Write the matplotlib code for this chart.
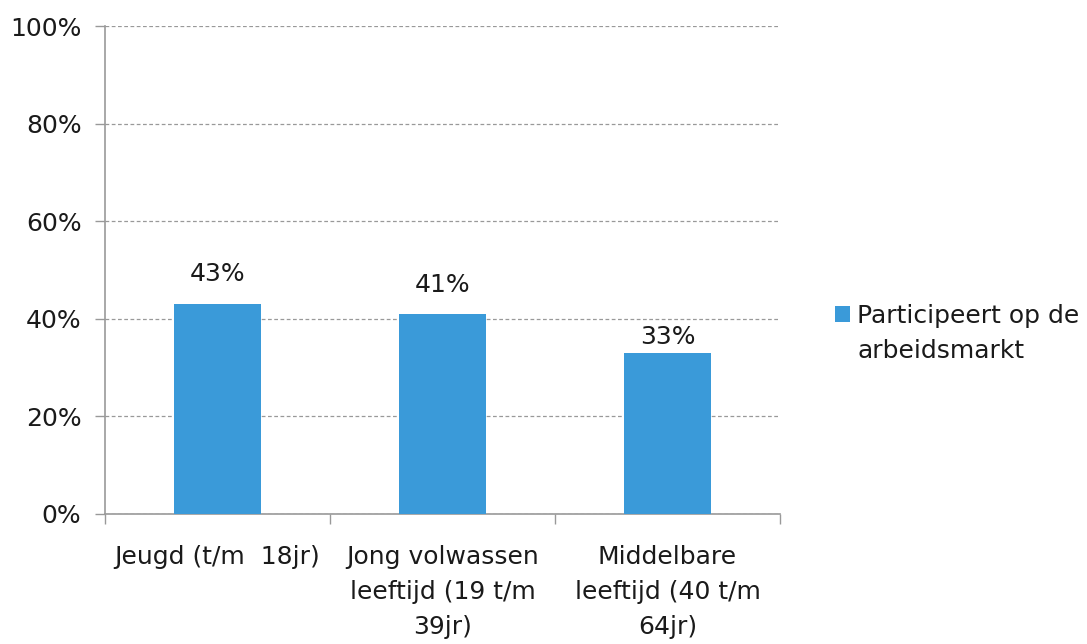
import matplotlib
matplotlib.use("Agg")
import matplotlib.pyplot as plt
import numpy as np

categories = ["Jeugd (t/m  18jr)", "Jong volwassen\nleeftijd (19 t/m\n39jr)", "Middelbare\nleeftijd (40 t/m\n64jr)"]
values = [43, 41, 33]
series_name = "Participeert op de\narbeidsmarkt"
yticks = [0, 20, 40, 60, 80, 100]
label_offsets_pt = [17, 16, 6.5]  # vertical offset of value labels above bars

plt.rcParams['font.family'] = ['DejaVu Sans']
FS = 18
TXT = "#1a1a1a"

fig = plt.figure(figsize=(10.87, 6.44), dpi=100)
ax = fig.add_axes([0.0966, 0.2019, 0.6210, 0.7577])

x = np.arange(len(categories))
color = "#3a9ad9"
bars = ax.bar(x, values, width=0.39, color=color, zorder=3, label=series_name)
for xi, v, off in zip(x, values, label_offsets_pt):
    ax.annotate(f"{v}%", xy=(xi, v), xytext=(0, off), textcoords="offset points",
                ha="center", va="baseline", fontsize=FS, color=TXT, zorder=4)

ax.set_xlim(-0.5, len(categories) - 0.5)
ax.set_ylim(0, 100)
ax.set_yticks(yticks)
ax.set_yticklabels([f"{t}%" for t in yticks], fontsize=FS, color=TXT)
ax.yaxis.grid(True, linestyle=(0, (3, 2)), color="#999999", linewidth=0.9, zorder=0)
ax.set_axisbelow(True)

ax.set_xticks(x)
ax.set_xticklabels(categories, fontsize=FS, color=TXT, linespacing=1.6)
ax.tick_params(axis="x", length=0, pad=22)
ax.set_xticks(np.arange(-0.5, len(categories)), minor=True)
ax.tick_params(axis="x", which="minor", length=7, color="#999999", width=1)
ax.tick_params(axis="y", length=7, color="#999999", width=1, pad=10)

for s in ["top", "right"]:
    ax.spines[s].set_visible(False)
for s in ["left", "bottom"]:
    ax.spines[s].set_color("#999999")
    ax.spines[s].set_linewidth(1.2)

# legend: marker aligned with the first line of the (wrapped) series name
name_lines = series_name.split("\n")
leg = fig.legend(handles=[bars], labels=[name_lines[0]], loc="upper left",
                 bbox_to_anchor=(0.752, 0.555), frameon=False, fontsize=FS,
                 handlelength=0.6, handleheight=0.6, handletextpad=0.3,
                 borderpad=0.2)
leg.get_texts()[0].set_color(TXT)
fig.canvas.draw()
tb = leg.get_texts()[0].get_window_extent()
inv = fig.transFigure.inverted()
x0, y0 = inv.transform((tb.x0, tb.y0))
for i, line in enumerate(name_lines[1:], start=1):
    fig.text(x0, y0 - i * 35 / fig.bbox.height, line, fontsize=FS, color=TXT,
             ha="left", va="bottom")

fig.savefig("out.png", dpi=100)
